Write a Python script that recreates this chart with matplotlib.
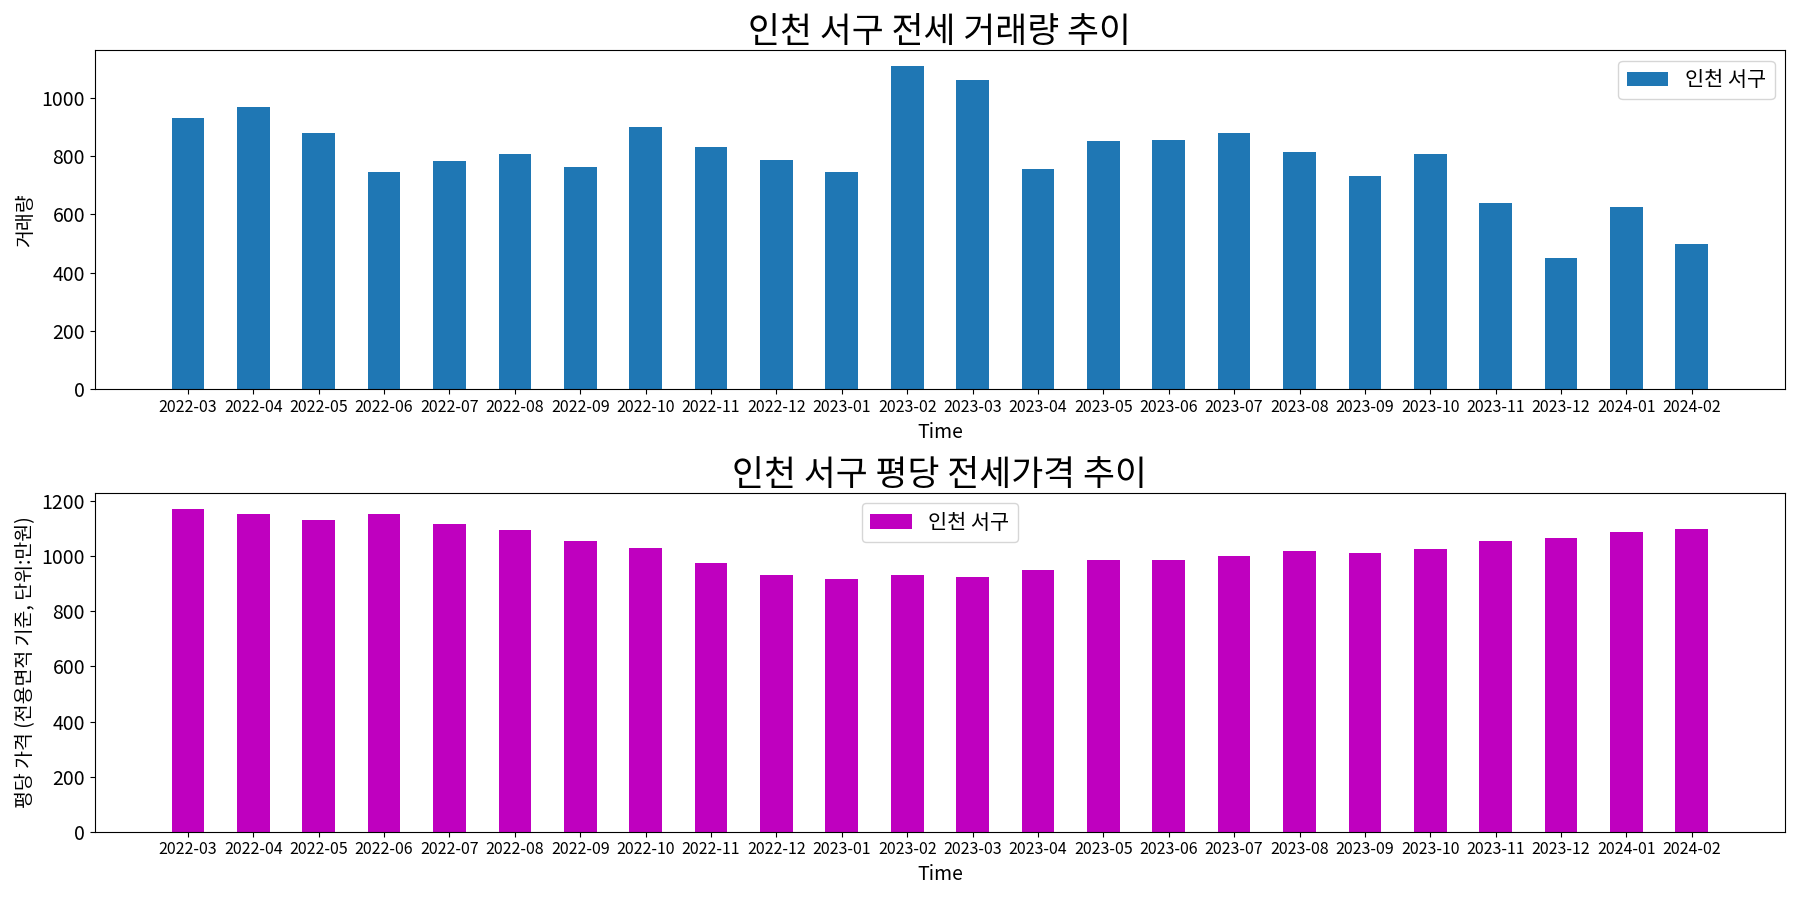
import matplotlib
matplotlib.use('Agg')
import matplotlib.pyplot as plt

plt.rcParams['font.family'] = ['Noto Sans CJK KR', 'DejaVu Sans']
plt.rcParams['axes.unicode_minus'] = False

months = ['2022-03', '2022-04', '2022-05', '2022-06', '2022-07', '2022-08',
          '2022-09', '2022-10', '2022-11', '2022-12', '2023-01', '2023-02',
          '2023-03', '2023-04', '2023-05', '2023-06', '2023-07', '2023-08',
          '2023-09', '2023-10', '2023-11', '2023-12', '2024-01', '2024-02']

# 거래량
volume = [932, 970, 880, 747, 785, 809, 764, 901, 833, 788, 747, 1108,
          1060, 757, 853, 857, 881, 816, 733, 809, 640, 451, 627, 499]

# 평당 전세가격 (만원)
price = [1172, 1154, 1132, 1154, 1118, 1096, 1056, 1030, 976, 932, 917, 932,
         925, 950, 987, 987, 1001, 1019, 1012, 1027, 1056, 1067, 1089, 1100]

region = '인천 서구'

fig, (ax1, ax2) = plt.subplots(2, 1, figsize=(18, 9), dpi=100)

ax1.bar(months, volume, width=0.5, color='#1f77b4', label=region)
ax1.set_title('인천 서구 전세 거래량 추이', fontsize=25)
ax1.set_xlabel('Time', fontsize=14)
ax1.set_ylabel('거래량', fontsize=14)
ax1.tick_params(axis='x', labelsize=11.5)
ax1.tick_params(axis='y', labelsize=14)
ax1.legend(loc='upper right', fontsize=15)

ax2.bar(months, price, width=0.5, color='m', label=region)
ax2.set_title('인천 서구 평당 전세가격 추이', fontsize=25)
ax2.set_xlabel('Time', fontsize=14)
ax2.set_ylabel('평당 가격 (전용면적 기준, 단위:만원)', fontsize=14)
ax2.tick_params(axis='x', labelsize=11.5)
ax2.tick_params(axis='y', labelsize=14)
ax2.legend(loc='upper center', fontsize=15)

plt.tight_layout()
plt.savefig('out.png')
